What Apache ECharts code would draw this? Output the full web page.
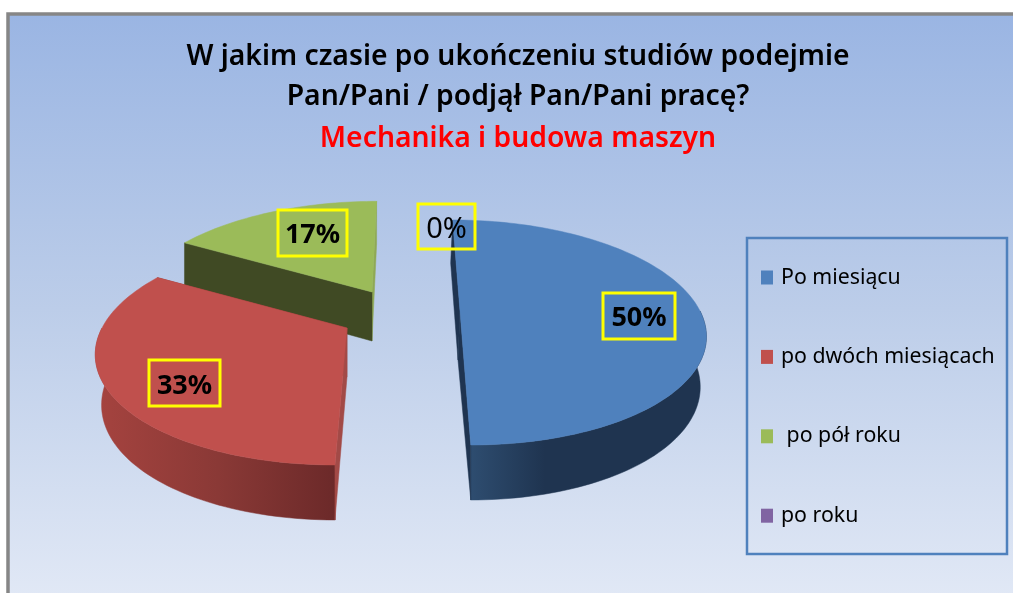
<!DOCTYPE html>
<html>
<head>
<meta charset="utf-8">
<style>html,body{margin:0;padding:0;background:#fff;overflow:hidden}#c{width:1013px;height:593px}</style>
<script src="https://cdn.jsdelivr.net/npm/echarts@6/dist/echarts.min.js"></script>
</head>
<body>
<div id="c"></div>
<script>
var categories = ['Po miesiącu', 'po dwóch miesiącach', ' po pół roku', 'po roku'];
var shares = [50, 33.3, 16.7, 0];
var titleLines = ['W jakim czasie po ukończeniu studiów podejmie', 'Pan/Pani / podjął Pan/Pani pracę?'];
var subtitle = 'Mechanika i budowa maszyn';

var topColors = ['#4f81bd', '#c0504d', '#9bbb59', '#8064a2'];
var bandColors = [['#2e4d70', '#1f3450', '#1f3450'], ['#a5433f', '#8a3936', '#6b2929'], ['#404a24', '#404a24', '#404a24'], ['#4d3b62', '#4d3b62', '#4d3b62']];
var bandSpan = [[470, 620], [98, 338], [185, 375], [0, 1]];
var edgeColors = [['#1f3450', '#1f3450'], ['#a24a47', '#8a3936'], ['#404a24', '#8fa955'], ['#4d3b62', '#4d3b62']];
var edgeShift = [-2, 0, 0, 0];
var seriesZ = [4, 3, 2, 5];
var apex = [[460, 311], [347, 328], [372, 292], [460, 311]];
var radiusX = [240, 245, 240, 240];
var radiusY = [108.4, 110.8, 108, 108];
var labelBoxes = [[603, 293, 72, 46, 'bold', 27, 2], [149, 360, 71, 46, 'bold', 27, 3], [278, 210, 69, 46, 'bold', 27, 2], [418, 204, 57, 45, 'normal', 29, 3]];

var PERSPECTIVE = 0.191, VANISH_X = 406, SKEW = 0.00149, RIM_SHRINK = 0.975;
var total = shares.reduce(function (a, b) { return a + b; }, 0);

function project(i, deg) {
  var t = deg * Math.PI / 180, u = Math.sin(t), v = -Math.cos(t), w = 1 - PERSPECTIVE * v;
  var X = radiusX[i] * u / w, Y = radiusY[i] * v / w;
  var s = (apex[i][0] - VANISH_X) * SKEW;
  return { x: apex[i][0] + X + s * Y, y: apex[i][1] + Y, v: v };
}
function depth(v) { return 49 + 6 * v; }
function poly(points, fill, z2) {
  return { type: 'polygon', z2: z2, shape: { points: points }, style: { fill: fill, stroke: fill, lineWidth: 0.5 } };
}

function renderSlice(params, api) {
  var i = params.seriesIndex, val = api.value(0);
  var start = 0;
  for (var k = 0; k < i; k++) start += shares[k];
  var a0 = start / total * 360, a1 = (start + val) / total * 360;
  var children = [];
  if (val > 0) {
    var c = { x: apex[i][0], y: apex[i][1] };
    var pts = [], band = [], lower = [];
    var n = Math.max(8, Math.ceil((a1 - a0) / 1.5));
    for (var j = 0; j <= n; j++) {
      var p = project(i, a0 + (a1 - a0) * j / n);
      pts.push([p.x, p.y]);
      if (p.v >= -0.02) {
        band.push([p.x, p.y]);
        lower.unshift([c.x + (p.x - c.x) * RIM_SHRINK, p.y + depth(p.v)]);
      }
    }
    var ps = project(i, a0), pe = project(i, a1), h0 = depth(0), sh = edgeShift[i];
    if (band.length > 1) {
      children.push(poly(band.concat(lower), new echarts.graphic.LinearGradient(bandSpan[i][0], 0, bandSpan[i][1], 0, [
        { offset: 0, color: bandColors[i][0] }, { offset: 0.5, color: bandColors[i][1] }, { offset: 1, color: bandColors[i][2] }
      ], true), 1));
    }
    children.push(poly([[c.x, c.y], [pe.x, pe.y], [pe.x, pe.y + depth(pe.v)], [c.x + sh, c.y + h0]], edgeColors[i][1], 2));
    children.push(poly([[c.x, c.y], [ps.x, ps.y], [ps.x + sh, ps.y + depth(ps.v)], [c.x + sh, c.y + h0]], edgeColors[i][0], 3));
    children.push(poly([[c.x, c.y]].concat(pts), topColors[i], 4));
  }
  var b = labelBoxes[i];
  children.push({ type: 'rect', z2: 10, shape: { x: b[0], y: b[1], width: b[2], height: b[3] }, style: { fill: 'none', stroke: '#ffff00', lineWidth: 3 } });
  children.push({ type: 'text', z2: 11, style: { x: b[0] + b[2] / 2, y: b[1] + b[3] / 2 + b[6], text: Math.round(val) + '%', align: 'center', verticalAlign: 'middle', fill: '#000', font: b[4] + ' ' + b[5] + 'px "Noto Sans"' } });
  return { type: 'group', children: children };
}

var chart = echarts.init(document.getElementById('c'), null, { renderer: 'canvas' });
chart.setOption({
  animation: false,
  backgroundColor: '#ffffff',
  title: {
    text: titleLines.join('\n'), subtext: subtitle,
    left: 513, top: 32, textAlign: 'center', itemGap: 2,
    textStyle: { fontFamily: 'Noto Sans', fontSize: 28.3, fontWeight: 600, color: '#000', lineHeight: 40 },
    subtextStyle: { fontFamily: 'Noto Sans', fontSize: 28.3, fontWeight: 600, color: '#ff0000', lineHeight: 40 }
  },
  legend: {
    orient: 'vertical', left: 761, top: 267, padding: 0, itemWidth: 12, itemHeight: 14, itemGap: 58.4, icon: 'rect',
    data: categories, selectedMode: false,
    textStyle: { fontFamily: 'Noto Sans', fontSize: 21.3, color: '#000', padding: [0, 0, 0, 3], lineHeight: 14 }
  },
  graphic: [
    { type: 'rect', z: -10, shape: { x: 8, y: 14, width: 1012, height: 590 },
      style: { fill: new echarts.graphic.LinearGradient(0, 0, 0, 1, [{ offset: 0, color: '#9ab5e3' }, { offset: 0.5, color: '#bccde9' }, { offset: 1, color: '#e2e9f6' }]), stroke: '#868686', lineWidth: 3.5 } },
    { type: 'rect', z: -9, shape: { x: 747, y: 238, width: 260, height: 316 }, style: { fill: 'none', stroke: '#4f81bd', lineWidth: 2.5 } }
  ],
  series: categories.map(function (name, i) {
    return {
      type: 'custom', name: name, coordinateSystem: 'none', z: seriesZ[i], silent: true,
      itemStyle: { color: topColors[i] }, renderItem: renderSlice, data: [[shares[i]]], clip: false
    };
  })
});
</script>
</body>
</html>
